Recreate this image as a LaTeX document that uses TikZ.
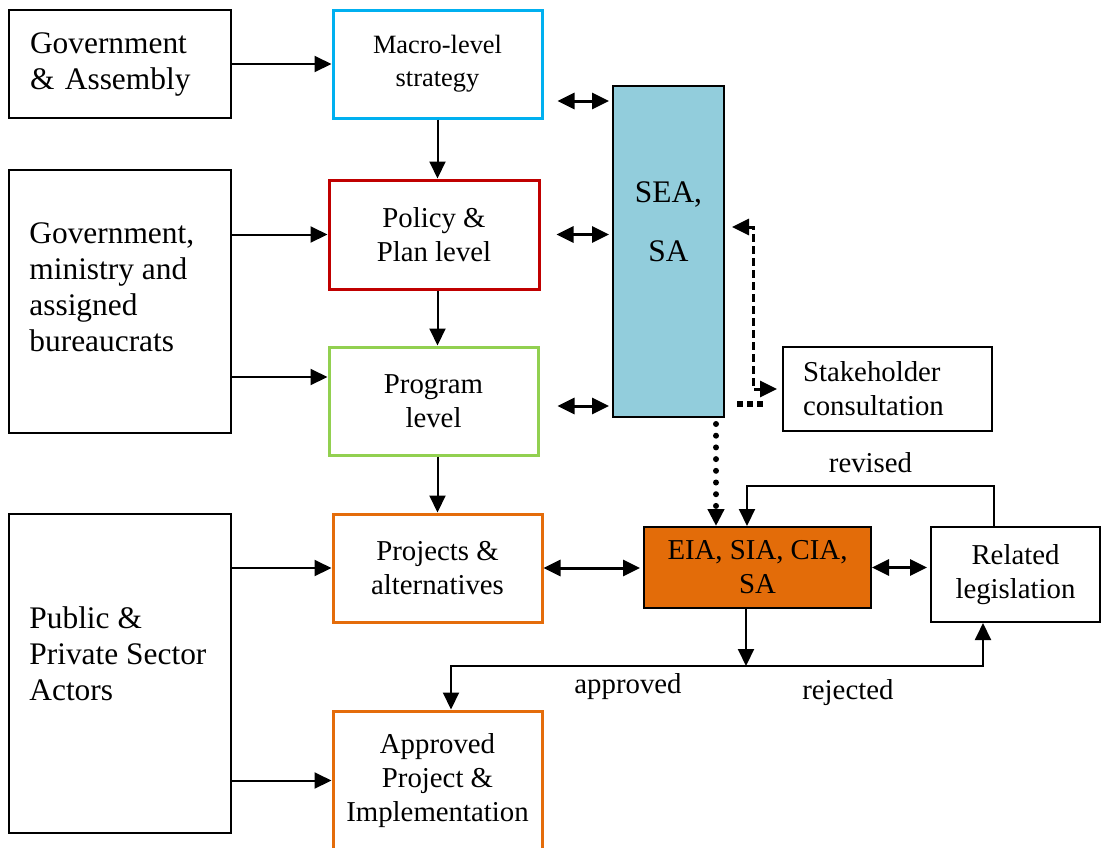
\documentclass[tikz,border=0pt]{standalone}
\usepackage{fontspec}
\setmainfont{Liberation Serif}
\usepackage{xcolor}
\usepackage{tikz}
\usetikzlibrary{arrows.meta,positioning}

\definecolor{macrocyan}{HTML}{00B0F0}
\definecolor{policyred}{HTML}{C00000}
\definecolor{programgreen}{HTML}{92D050}
\definecolor{projorange}{HTML}{E46C0A}
\definecolor{seablue}{HTML}{92CDDC}
\definecolor{eiaorange}{HTML}{E36C09}

\begin{document}
\begin{tikzpicture}[x=0.5pt,y=-0.5pt,>={Triangle[length=8.5pt,width=8pt]},
		actor/.style={draw,line width=1pt,minimum width=111pt},
		actortext/.style={align=left,inner sep=0pt,font=\fontsize{15.7}{18}\selectfont},
		level/.style={draw,line width=1.5pt,align=center,minimum width=104.5pt,minimum height=54pt,font=\fontsize{14.4}{17}\selectfont},
		plainbox/.style={draw,line width=1pt,align=center,font=\fontsize{14.4}{17}\selectfont},
		lbl/.style={font=\fontsize{14.4}{17}\selectfont},
		conn/.style={->,line width=1pt},
		twoway/.style={<->,line width=1.5pt,shorten >=1.5pt},
		dashlink/.style={<->,line width=1.5pt,dash pattern=on 4pt off 2pt},
		sqdots/.style={line width=3pt,dash pattern=on 3pt off 2pt},
		rounddots/.style={->,line width=3pt,line cap=round,dash pattern=on 0pt off 5.85pt}]
	\useasboundingbox (0,0) rectangle (1102,847);

	\node[actor,minimum height=54pt,text width=90pt,inner xsep=10.5pt,align=left,font=\fontsize{15.7}{18}\selectfont] (govassembly) at (120,64) {Government\\\& Assembly};
	\node[actor,minimum height=131.5pt] (ministry) at (120,301.5) {};
	\node[actortext,below right=26.5pt and 10.5pt of ministry.north west] (ministrytext) {Government,\\ministry and\\assigned\\bureaucrats};
	\node[actor,minimum height=159.5pt] (public) at (120,673.5) {};
	\node[actortext,below right=46.8pt and 10.5pt of public.north west] (publictext) {Public \&\\Private Sector\\Actors};

	\node[level,draw=macrocyan,font=\fontsize{13.2}{16.5}\selectfont] (macro) at (437.5,64) {Macro-level\\strategy};
	\node[level,draw=policyred,minimum width=105pt,minimum height=54.5pt] (policy) at (434,234.5) {Policy \&\\Plan level};
	\node[level,draw=programgreen] (program) at (433.5,401) {Program\\level};
	\node[level,draw=projorange] (projects) at (437.5,568) {Projects \&\\alternatives};
	\node[level,draw=projorange,minimum height=69.5pt] (approved) at (437.5,780.5) {Approved\\Project \&\\Implementation};

	\node[draw,line width=1pt,fill=seablue,minimum width=55.5pt,minimum height=165.5pt] (sea) at (668.5,251.5) {};
	\node[align=center,font=\fontsize{15.7}{18}\selectfont] (seatext) at ([yshift=14.75pt]sea.center) {SEA,\\[11.5pt]SA};
	\node[plainbox,align=left,text width=84.5pt,inner xsep=10pt,minimum height=42pt] (stake) at (887.5,389) {Stakeholder\\consultation};
	\node[plainbox,fill=eiaorange,minimum width=113.5pt,minimum height=40.5pt] (eia) at (757.5,567.5) {EIA, SIA, CIA,\\SA};
	\node[plainbox,minimum width=84.5pt,minimum height=47.5pt] (related) at (1015.5,574.5) {Related\\legislation};

	\path[conn] (govassembly) edge (macro);
	\path[conn] (ministry.east |- policy.west) edge (policy.west);
	\path[conn] (ministry.east |- 0,377) edge ([yshift=12pt]program.west);
	\path[conn] (public.east |- projects.west) edge (projects.west);
	\path[conn] (public.east |- approved.west) edge (approved.west);

	\draw[conn] (macro.south) -- (macro.south |- policy.north);
	\draw[conn] (policy.south -| macro.south) -- (program.north -| macro.south);
	\draw[conn] (program.south -| macro.south) -- (projects.north -| macro.south);

	\draw[twoway] ([xshift=7pt,yshift=-18.5pt]macro.east) -- ([yshift=-18.5pt]macro.east -| sea.west);
	\draw[twoway] ([xshift=8pt]policy.east) -- (policy.east -| sea.west);
	\draw[twoway] ([xshift=9pt,yshift=-2.5pt]program.east) -- ([yshift=-2.5pt]program.east -| sea.west);

	\draw[dashlink] ([xshift=3.5pt,yshift=12.25pt]sea.east) -| ([xshift=-14.5pt]stake.west) -- ([xshift=-2.5pt]stake.west);
	\draw[sqdots,shorten <=6pt,shorten >=9.5pt] ([yshift=7pt]sea.south east) -- ([yshift=7pt]sea.south east -| stake.west);
	\draw[rounddots] ([xshift=23.75pt,yshift=-3pt]sea.south) -- ([xshift=23.75pt]sea.south |- eia.north);

	\draw[twoway] (projects.east) -- (projects.east -| eia.west);
	\draw[twoway] (eia.east) -- (eia.east -| related.west);

	\draw[conn] ([xshift=-10.75pt]related.north) -- ++(0,-40) -| node[lbl,pos=0.25,above=3pt] {revised} ([xshift=-5.25pt]eia.north);

	\coordinate (fork) at (746,666);
	\draw[conn] ([xshift=-5.75pt]eia.south) -- (fork);
	\draw[conn] (fork) -| node[lbl,pos=0.2,below] {approved} ([xshift=6.75pt]approved.north);
	\draw[conn] (fork) -| node[lbl,pos=0.215,below=3pt] {rejected} ([xshift=-16.25pt]related.south);
\end{tikzpicture}
\end{document}
